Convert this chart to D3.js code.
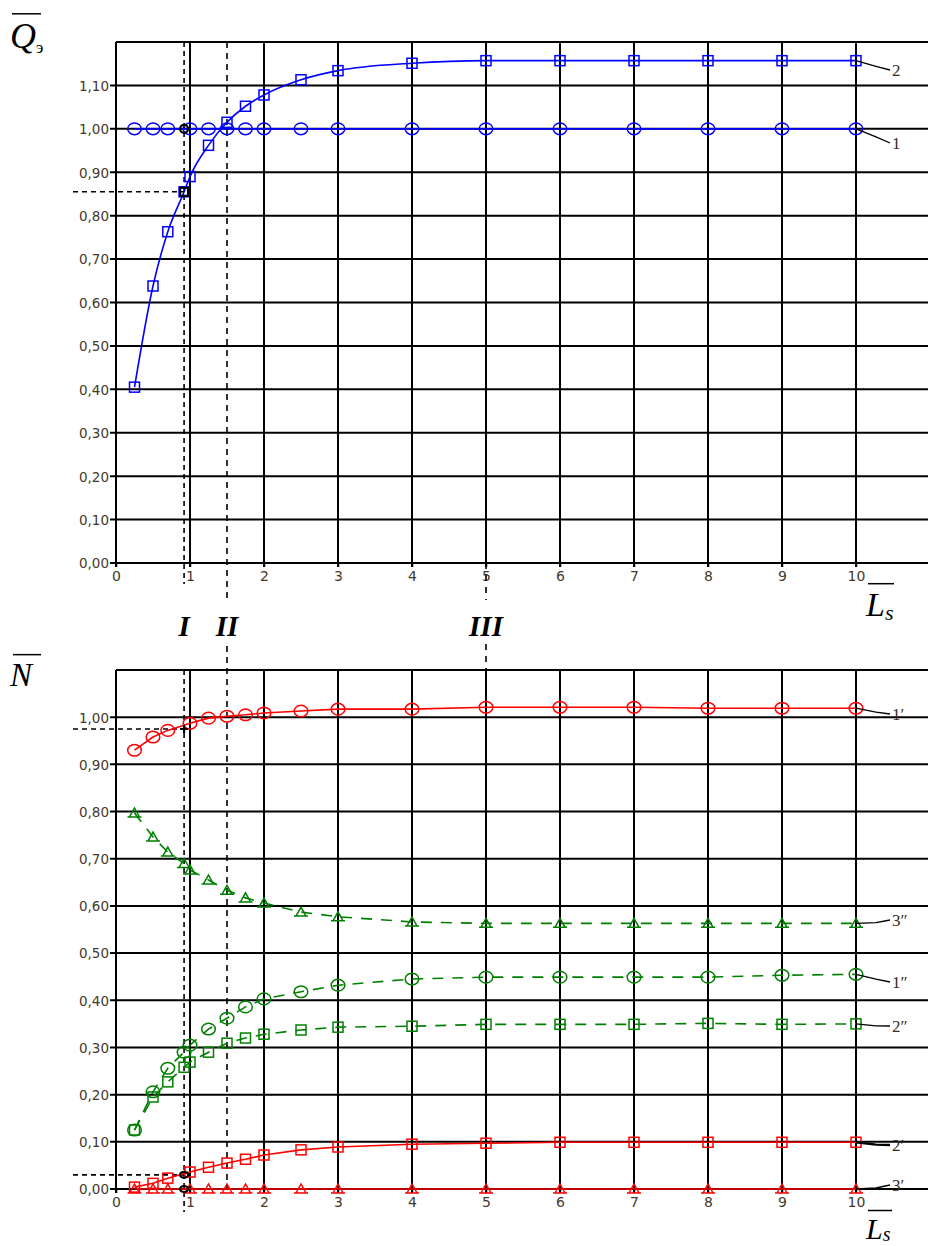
<!DOCTYPE html>
<html><head><meta charset="utf-8">
<script src="https://cdn.jsdelivr.net/npm/d3@7"></script>
<style>body{margin:0;background:#fff}svg{display:block}</style>
</head><body>
<svg id="c" width="928" height="1246"></svg>
<script>
// ---------- data ----------
const xTickVals = [0,1,2,3,4,5,6,7,8,9,10];
const xGridVals = [0,1,2,3,4,5,6,7,8,9,10,11];
const qTickVals = [0,0.1,0.2,0.3,0.4,0.5,0.6,0.7,0.8,0.9,1.0,1.1];
const nTickVals = [0,0.1,0.2,0.3,0.4,0.5,0.6,0.7,0.8,0.9,1.0];

// top chart (Q)
const q1X = [0.25,0.5,0.7,1.0,1.25,1.5,1.75,2,2.5,3,4,5,6,7,8,9,10];
const q1Y = [1,1,1,1,1,1,1,1,1,1,1,1,1,1,1,1,1];
const q2X = [0.25,0.5,0.7,0.92,1.0,1.25,1.5,1.75,2,2.5,3,4,5,6,7,8,9,10];
const q2Y = [0.405,0.638,0.763,0.855,0.89,0.962,1.015,1.052,1.078,1.113,1.134,1.151,1.157,1.157,1.157,1.157,1.157,1.157];

// bottom chart (N) – red (solid)
const nRX = [0.25,0.5,0.7,1.0,1.25,1.5,1.75,2,2.5,3,4,5,6,7,8,9,10];
const n1pY = [0.930,0.958,0.972,0.987,0.998,1.002,1.005,1.009,1.013,1.017,1.017,1.021,1.021,1.021,1.019,1.019,1.019];
const n2pY = [0.004,0.012,0.023,0.036,0.046,0.055,0.063,0.072,0.083,0.089,0.095,0.097,0.099,0.099,0.099,0.099,0.099];
const n3pY = [0,0,0,0,0,0,0,0,0,0,0,0,0,0,0,0,0];
// bottom chart – green (dashed)
const nGX = [0.25,0.5,0.7,0.92,1.0,1.25,1.5,1.75,2,2.5,3,4,5,6,7,8,9,10];
const n1ppY = [0.125,0.206,0.256,0.29,0.305,0.339,0.362,0.386,0.403,0.418,0.432,0.445,0.449,0.449,0.449,0.449,0.453,0.455];
const n2ppY = [0.125,0.195,0.227,0.258,0.269,0.29,0.309,0.32,0.328,0.337,0.343,0.345,0.349,0.349,0.349,0.351,0.349,0.35];
const n3ppY = [0.797,0.746,0.714,0.69,0.676,0.655,0.633,0.617,0.606,0.587,0.577,0.566,0.563,0.563,0.563,0.563,0.563,0.563];

// reference points
const xI = 0.92, xII = 1.5, xIII = 5;
const qRefY = 0.855;
const nRefY1 = 0.975, nRefY2 = 0.03;

// ---------- scales ----------
const svg = d3.select("#c");
const x = d3.scaleLinear().domain([0, 11]).range([116, 930]);
const yQ = d3.scaleLinear().domain([0, 1.2]).range([563, 42]);
const yN = d3.scaleLinear().domain([0, 1.1]).range([1189, 670]);

const fmt = d => d.toFixed(2).replace(".", ",");
const tickColor = "#45392b";
const BLUE = "#0000ff", RED = "#ff0000", GREEN = "#008000";

function grid(y, hVals, topVal) {
  const g = svg.append("g");
  g.selectAll(".h").data(hVals.concat([topVal])).join("line")
    .attr("x1", d => d === topVal ? x(0) : x(0) - 6).attr("x2", 928)
    .attr("y1", d => y(d)).attr("y2", d => y(d))
    .attr("stroke", "#000").attr("stroke-width", 2);
  g.selectAll(".v").data(xGridVals).join("line")
    .attr("x1", d => x(d)).attr("x2", d => x(d))
    .attr("y1", y(topVal)).attr("y2", y(0) + 4)
    .attr("stroke", "#000").attr("stroke-width", 2);
  const ax = svg.append("g").attr("transform", `translate(${x(0) - 6},0)`)
    .call(d3.axisLeft(y).tickValues(hVals).tickFormat(fmt).tickSize(0).tickPadding(1));
  ax.select(".domain").remove();
  ax.selectAll("text").attr("fill", tickColor).style("font-family", "DejaVu Sans, sans-serif")
    .style("font-size", "13.5px").attr("dy", "0.36em");
  const bx = svg.append("g").attr("transform", `translate(0,${y(0)})`)
    .call(d3.axisBottom(x).tickValues(xTickVals).tickFormat(d3.format("d")).tickSize(4).tickPadding(4));
  bx.select(".domain").remove();
  bx.selectAll("line").attr("stroke", "#000").attr("stroke-width", 1.5);
  bx.selectAll("text").attr("fill", tickColor).style("font-family", "DejaVu Sans, sans-serif")
    .style("font-size", "14px");
}
grid(yQ, qTickVals, 1.2);
grid(yN, nTickVals, 1.1);

// ---------- reference dashed lines ----------
function dline(x1, y1, x2, y2, dash, w) {
  svg.append("line").attr("x1", x1).attr("y1", y1).attr("x2", x2).attr("y2", y2)
    .attr("stroke", "#000").attr("stroke-width", w || 1.6).attr("stroke-dasharray", dash);
}
dline(x(xI), yQ(1.2), x(xI), 584, "5,4");
dline(x(xI), yN(1.1), x(xI), 1212, "5,4");
dline(x(xII), yQ(1.2), x(xII), 598, "6,5");
dline(x(xII), 646, x(xII), yN(0), "6,5");
dline(x(xIII), yQ(0), x(xIII), 600, "6,6");
dline(x(xIII), 644, x(xIII), yN(1.1), "6,6");
dline(73, yQ(qRefY), x(xI), yQ(qRefY), "5,4");
dline(73, yN(nRefY1), x(xI), yN(nRefY1), "5,4");
dline(73, yN(nRefY2), x(xI), yN(nRefY2), "5,4");

// ---------- series ----------
function series(xs, ys, y, color, marker, dashed, curve) {
  const pts = xs.map((v, i) => [v, ys[i]]);
  const line = d3.line().x(d => x(d[0])).y(d => y(d[1])).curve(curve || d3.curveLinear);
  svg.append("path").attr("d", line(pts)).attr("fill", "none").attr("stroke", color)
    .attr("stroke-width", 1.6).attr("stroke-dasharray", dashed ? "11,9" : null);
  const g = svg.append("g").attr("fill", "none").attr("stroke", color).attr("stroke-width", 1.5);
  pts.forEach(p => drawMarker(g, marker, x(p[0]), y(p[1])));
}
function drawMarker(g, type, cx, cy) {
  if (type === "circle") {
    g.append("ellipse").attr("cx", cx).attr("cy", cy).attr("rx", 6.8).attr("ry", 5.8);
  } else if (type === "square") {
    g.append("rect").attr("x", cx - 5).attr("y", cy - 5).attr("width", 10).attr("height", 10);
  } else if (type === "triangle") {
    g.append("path").attr("d", `M${cx-5},${cy+4}L${cx},${cy-5}L${cx+5},${cy+4}Z M${cx-7},${cy+4}H${cx+7}`);
  }
}

series(q1X, q1Y, yQ, BLUE, "circle", false);
series(q2X, q2Y, yQ, BLUE, "square", false, d3.curveMonotoneX);

series(nRX, n1pY, yN, RED, "circle", false);
series(nRX, n2pY, yN, RED, "square", false);
series(nRX, n3pY, yN, RED, "triangle", false);
series(nGX, n3ppY, yN, GREEN, "triangle", true);
series(nGX, n1ppY, yN, GREEN, "circle", true);
series(nGX, n2ppY, yN, GREEN, "square", true);

// black reference markers
const bk = svg.append("g").attr("fill", "none").attr("stroke", "#000").attr("stroke-width", 2.2);
bk.append("circle").attr("cx", x(xI)).attr("cy", yQ(1)).attr("r", 4);
bk.append("rect").attr("x", x(xI) - 4).attr("y", yQ(qRefY) - 4).attr("width", 8).attr("height", 8);
bk.append("path").attr("d", `M${x(xI)-4},${yN(nRefY1)}h8M${x(xI)},${yN(nRefY1)-4}v8`);
bk.append("ellipse").attr("cx", x(xI)).attr("cy", yN(nRefY2)).attr("rx", 4).attr("ry", 3);
bk.append("ellipse").attr("cx", x(xI)).attr("cy", yN(0)).attr("rx", 4).attr("ry", 3);

// ---------- curve labels ----------
const labFont = "Liberation Serif, serif";
function curveLabel(y, v, text, ly, lw) {
  const x0 = x(10), y0 = y(v);
  svg.append("path").attr("d", `M${x0},${y0}L${x0+20},${(y0+ly)/2+1}L${x0+34},${ly}`)
    .attr("fill", "none").attr("stroke", "#000").attr("stroke-width", lw || 1.3);
  svg.append("text").attr("x", x0 + 36).attr("y", ly + 6).text(text)
    .attr("fill", "#3a2a1a").style("font-family", labFont).style("font-size", "17px");
}
curveLabel(yQ, q2Y[q2Y.length-1], "2", 70);
curveLabel(yQ, 1, "1", 143);
curveLabel(yN, n1pY[n1pY.length-1], "1\u2032", 714);
curveLabel(yN, n3ppY[n3ppY.length-1], "3\u2033", 920);
curveLabel(yN, n1ppY[n1ppY.length-1], "1\u2033", 982);
curveLabel(yN, n2ppY[n2ppY.length-1], "2\u2033", 1026);
curveLabel(yN, n2pY[n2pY.length-1], "2\u2032", 1145, 2.4);
curveLabel(yN, 0, "3\u2032", 1185);

// ---------- axis titles ----------
const serif = "Liberation Serif, 'Times New Roman', serif";
function overTitle(tx, ty, main, sub, size, subSize, barX, barW, subDy) {
  const t = svg.append("text").attr("x", tx).attr("y", ty).attr("fill", "#000")
    .style("font-family", serif).style("font-style", "italic").style("font-size", size + "px");
  t.append("tspan").text(main);
  if (sub) t.append("tspan").text(sub).attr("dy", subDy).style("font-size", subSize + "px")
    .style("font-style", sub === "э" ? "normal" : "italic");
  svg.append("line").attr("x1", tx + barX).attr("x2", tx + barX + barW)
    .attr("y1", ty - size * 0.95).attr("y2", ty - size * 0.95)
    .attr("stroke", "#000").attr("stroke-width", 1.5);
}
overTitle(10, 48, "Q", "э", 36, 17, 2, 29, 5);
overTitle(10, 686, "N", null, 33, 0, 3, 28, 0);
overTitle(866, 616, "L", "s", 34, 22, 2, 26, 4);
overTitle(866, 1239, "L", "s", 30, 20, 2, 24, 2);

// roman numerals
[["I", xI], ["II", xII], ["III", xIII]].forEach(r => {
  svg.append("text").attr("x", x(r[1])).attr("y", 636).attr("text-anchor", "middle")
    .text(r[0]).attr("fill", "#000")
    .style("font-family", serif).style("font-style", "italic").style("font-weight", "bold")
    .style("font-size", "29px");
});
</script>
</body></html>
